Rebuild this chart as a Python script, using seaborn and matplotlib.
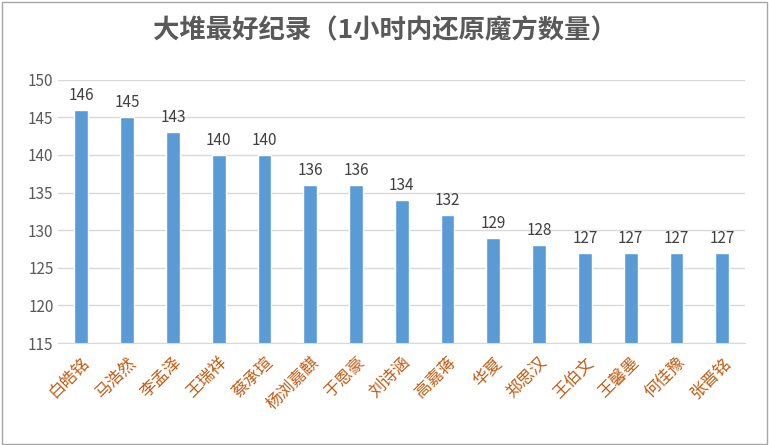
import matplotlib.pyplot as plt
import seaborn as sns
import pandas as pd

names = ['白皓铭', '马浩然', '李孟泽', '王瑞祥', '蔡承瑄', '杨浏嘉麒', '于恩豪', '刘诗涵',
         '高嘉蒋', '华夏', '郑思汉', '王伯文', '王馨墨', '何佳豫', '张晋铭']
counts = [146, 145, 143, 140, 140, 136, 136, 134, 132, 129, 128, 127, 127, 127, 127]
yticks = [115, 120, 125, 130, 135, 140, 145, 150]

sns.set_style('white')
plt.rcParams['font.family'] = ['Noto Sans CJK SC', 'DejaVu Sans']

df = pd.DataFrame({'name': names, 'count': counts})

fig = plt.figure(figsize=(7.69, 4.45), dpi=100)
ax = fig.add_axes([0.076, 0.229, 0.893, 0.592])
sns.barplot(data=df, x='name', y='count', color='#5B9BD5', width=0.3, saturation=1, ax=ax, zorder=2)

ax.set_ylim(115, 150)
ax.set_yticks(yticks)
ax.yaxis.grid(True, color='#D9D9D9', linewidth=1, zorder=0)
for s in ['top', 'right', 'left']:
    ax.spines[s].set_visible(False)
ax.spines['bottom'].set_color('#D9D9D9')
ax.spines['bottom'].set_zorder(3)
ax.tick_params(axis='y', colors='#595959', labelsize=11, length=0)
ax.tick_params(axis='x', colors='#C55A11', labelsize=12, length=0, rotation=45, pad=8)
for lbl in ax.get_xticklabels():
    lbl.set_ha('right')
    lbl.set_rotation_mode('anchor')
ax.set_xlabel('')
ax.set_ylabel('')

for i, v in enumerate(counts):
    ax.text(i, v + 0.8, str(v), ha='center', va='bottom', fontsize=11, color='#404040')

fig.text(0.5, 0.93, '大堆最好纪录（1小时内还原魔方数量）', ha='center', va='center',
         fontsize=19, fontweight='bold', color='#595959')
fig.patches.append(plt.Rectangle((0.002, 0.003), 0.995, 0.993, transform=fig.transFigure,
                                 fill=False, edgecolor='#A6A6A6', linewidth=1))

fig.savefig('out.png', dpi=100)
